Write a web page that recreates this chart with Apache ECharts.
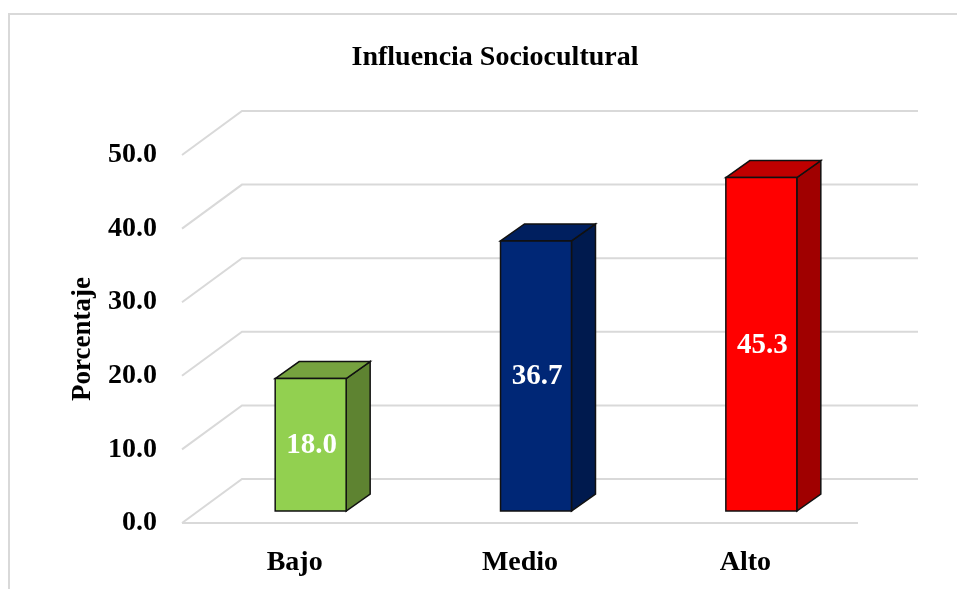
<!DOCTYPE html>
<html>
<head>
<meta charset="utf-8">
<script src="https://cdn.jsdelivr.net/npm/echarts@6/dist/echarts.min.js"></script>
<style>
  html, body { margin: 0; padding: 0; background: #fff; }
  #chart { width: 957px; height: 589px; }
</style>
</head>
<body>
<div id="chart"></div>
<script>
// datos
const categories = ['Bajo', 'Medio', 'Alto'];
const values = [18.0, 36.7, 45.3];
const yTicks = [0, 10, 20, 30, 40, 50];

// colores de cada barra: frente, arriba, lado
const faceColors = ['#92D050', '#002776', '#FF0000'];
const topColors = ['#76A23F', '#001F5F', '#C00000'];
const sideColors = ['#5E8331', '#001A4E', '#A00000'];

const FONT = '"Liberation Serif", "Times New Roman", serif';
const WALL = [60, -44];    // profundidad del piso
const BAR_OFF = [16, -12]; // cara frontal de la barra
const BAR_DEPTH = [24, -17];

const chart = echarts.init(document.getElementById('chart'));

// lineas de la grilla en perspectiva
const renderGrid = (params, api) => {
  const cs = params.coordSys;
  const v = api.value(1);
  const y = api.coord([0, v])[1];
  const x0 = cs.x;
  const x1 = cs.x + cs.width;
  const style = { stroke: '#d9d9d9', lineWidth: 2, fill: null };
  const children = [{
    type: 'polyline',
    shape: { points: [[x0, y], [x0 + WALL[0], y + WALL[1]], [x1 + WALL[0], y + WALL[1]]] },
    style: style
  }];
  if (v === 0) {
    children.push({ type: 'line', shape: { x1: x0, y1: y, x2: x1, y2: y }, style: style });
  }
  return { type: 'group', children: children };
};

// barras 3D
const renderBar = (params, api) => {
  const i = api.value(0);
  const v = api.value(1);
  const top = api.coord([i, v]);
  const base = api.coord([i, 0]);
  const w = api.size([1, 0])[0] * 0.315;
  const xl = top[0] - w / 2 + BAR_OFF[0];
  const xr = xl + w;
  const yt = top[1] + BAR_OFF[1];
  const yb = base[1] + BAR_OFF[1];
  const dx = BAR_DEPTH[0], dy = BAR_DEPTH[1];
  const stroke = '#111';
  return {
    type: 'group',
    children: [
      {
        type: 'polygon',
        shape: { points: [[xr, yt], [xr + dx, yt + dy], [xr + dx, yb + dy], [xr, yb]] },
        style: { fill: sideColors[i], stroke: stroke, lineWidth: 1.5 }
      },
      {
        type: 'polygon',
        shape: { points: [[xl, yt], [xl + dx, yt + dy], [xr + dx, yt + dy], [xr, yt]] },
        style: { fill: topColors[i], stroke: stroke, lineWidth: 1.5 }
      },
      {
        type: 'rect',
        shape: { x: xl, y: yt, width: w, height: yb - yt },
        style: { fill: faceColors[i], stroke: stroke, lineWidth: 1.5 }
      },
      {
        type: 'text',
        style: {
          text: v.toFixed(1),
          x: (xl + xr) / 2 + 1,
          y: (yt + yb) / 2 + 1,
          fill: '#fff',
          font: 'bold 29px ' + FONT,
          align: 'center',
          verticalAlign: 'middle'
        }
      }
    ]
  };
};

const option = {
  animation: false,
  backgroundColor: '#fff',
  textStyle: { fontFamily: FONT },
  title: {
    text: 'Influencia Sociocultural',
    left: 490,
    textAlign: 'center',
    top: 39,
    textStyle: { fontFamily: FONT, fontSize: 28, fontWeight: 'bold', color: '#000' }
  },
  graphic: [{
    type: 'polyline',
    shape: { points: [[9, 600], [9, 14], [960, 14]] },
    style: { stroke: '#d9d9d9', lineWidth: 2, fill: null },
    silent: true
  }],
  grid: { left: 182, right: 99, top: 155, bottom: 66 },
  xAxis: {
    type: 'category',
    data: categories,
    axisLine: { show: false },
    axisTick: { show: false },
    splitLine: { show: false },
    axisLabel: {
      margin: 26,
      fontFamily: FONT, fontSize: 28, fontWeight: 'bold', color: '#000'
    }
  },
  yAxis: {
    type: 'value',
    min: 0,
    max: 50,
    interval: 10,
    name: 'Porcentaje',
    nameLocation: 'middle',
    nameRotate: 90,
    nameGap: 85,
    nameTextStyle: { fontFamily: FONT, fontSize: 27, fontWeight: 'bold', color: '#000' },
    axisLine: { show: false },
    axisTick: { show: false },
    splitLine: { show: false },
    axisLabel: {
      margin: 25,
      padding: [7, 0, 0, 0],
      formatter: (val) => val.toFixed(1),
      fontFamily: FONT, fontSize: 28, fontWeight: 'bold', color: '#000'
    }
  },
  series: [
    {
      type: 'custom',
      renderItem: renderGrid,
      data: yTicks.map(t => [0, t]),
      silent: true,
      z: 1
    },
    {
      type: 'custom',
      renderItem: renderBar,
      data: values.map((v, i) => [i, v]),
      z: 2
    }
  ]
};

chart.setOption(option);
</script>
</body>
</html>
